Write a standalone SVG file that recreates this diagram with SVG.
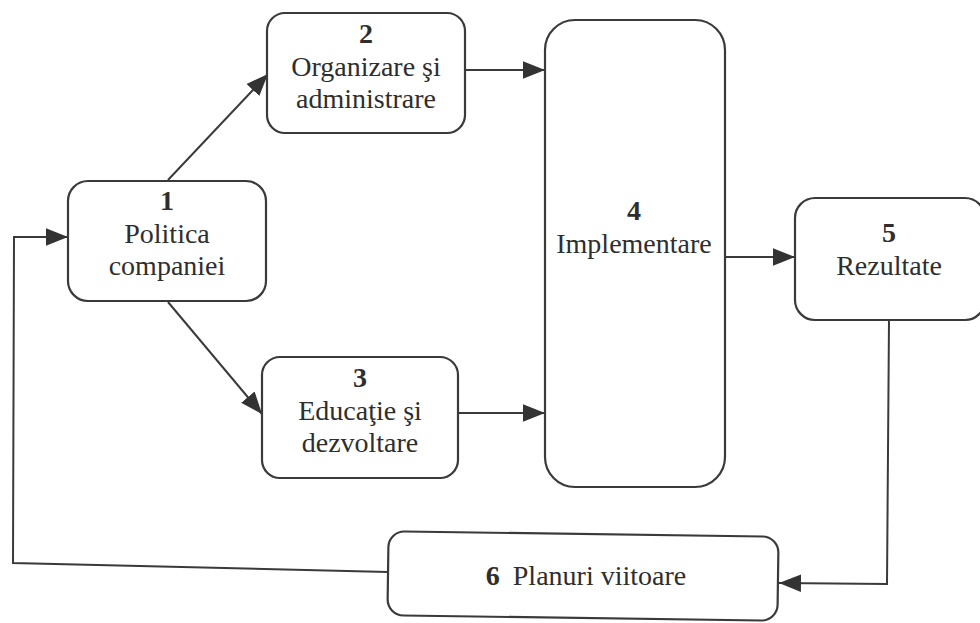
<svg xmlns="http://www.w3.org/2000/svg" width="980" height="623" viewBox="0 0 980 623">
<style>
.box{fill:#fff;stroke:#3a3a3a;stroke-width:2.2}
.t{font-size:28px;fill:#2e2e2e;text-anchor:middle}
.n{font-weight:bold}
.c{fill:none;stroke:#3a3a3a;stroke-width:2}
</style>
<defs>
<marker id="ahb" viewBox="0 0 10 10" refX="10" refY="5" markerWidth="22" markerHeight="22" markerUnits="userSpaceOnUse" orient="auto">
<path d="M0,1 L10,5 L0,9 z" fill="#333"/>
</marker>
</defs>
<rect width="980" height="623" fill="#fff"/>
<g id="connectors">
<path class="c" d="M168,180 L268,74" marker-end="url(#ahb)"/>
<path class="c" d="M168,302 L262,414" marker-end="url(#ahb)"/>
<path class="c" d="M465,70 L545,70" marker-end="url(#ahb)"/>
<path class="c" d="M458,413 L545,413" marker-end="url(#ahb)"/>
<path class="c" d="M725,257 L795,257" marker-end="url(#ahb)"/>
<path class="c" d="M889,320 L887,584 L779,583" marker-end="url(#ahb)"/>
<path class="c" d="M388,572 L13,563 L14,237 L68,237" marker-end="url(#ahb)"/>
</g>
<g font-family="Liberation Serif, Times New Roman, serif">
<g id="node1">
<rect class="box" x="68" y="181" width="198" height="120" rx="20"/>
<text class="t n" x="167" y="210">1</text>
<text class="t" x="167" y="243">Politica</text>
<text class="t" x="167" y="275">companiei</text>
</g>
<g id="node2">
<rect class="box" x="267" y="13" width="198" height="120" rx="18"/>
<text class="t n" x="366" y="43">2</text>
<text class="t" x="366" y="76">Organizare şi</text>
<text class="t" x="366" y="108">administrare</text>
</g>
<g id="node3">
<rect class="box" x="262" y="357" width="196" height="121" rx="18"/>
<text class="t n" x="360" y="387">3</text>
<text class="t" x="360" y="420">Educaţie şi</text>
<text class="t" x="360" y="452">dezvoltare</text>
</g>
<g id="node4">
<rect class="box" x="545" y="20" width="180" height="467" rx="30"/>
<text class="t n" x="634" y="220">4</text>
<text class="t" x="634" y="253">Implementare</text>
</g>
<g id="node5">
<rect class="box" x="795" y="198" width="190" height="122" rx="20"/>
<text class="t n" x="889" y="242">5</text>
<text class="t" x="889" y="275">Rezultate</text>
</g>
<g id="node6">
<rect class="box" x="388" y="534" width="390" height="84" rx="16" transform="rotate(0.8 583 576)"/>
<text class="t" x="586" y="585" font-size="27"><tspan class="n">6</tspan><tspan dx="6"> Planuri viitoare</tspan></text>
</g>
</g>
</svg>
